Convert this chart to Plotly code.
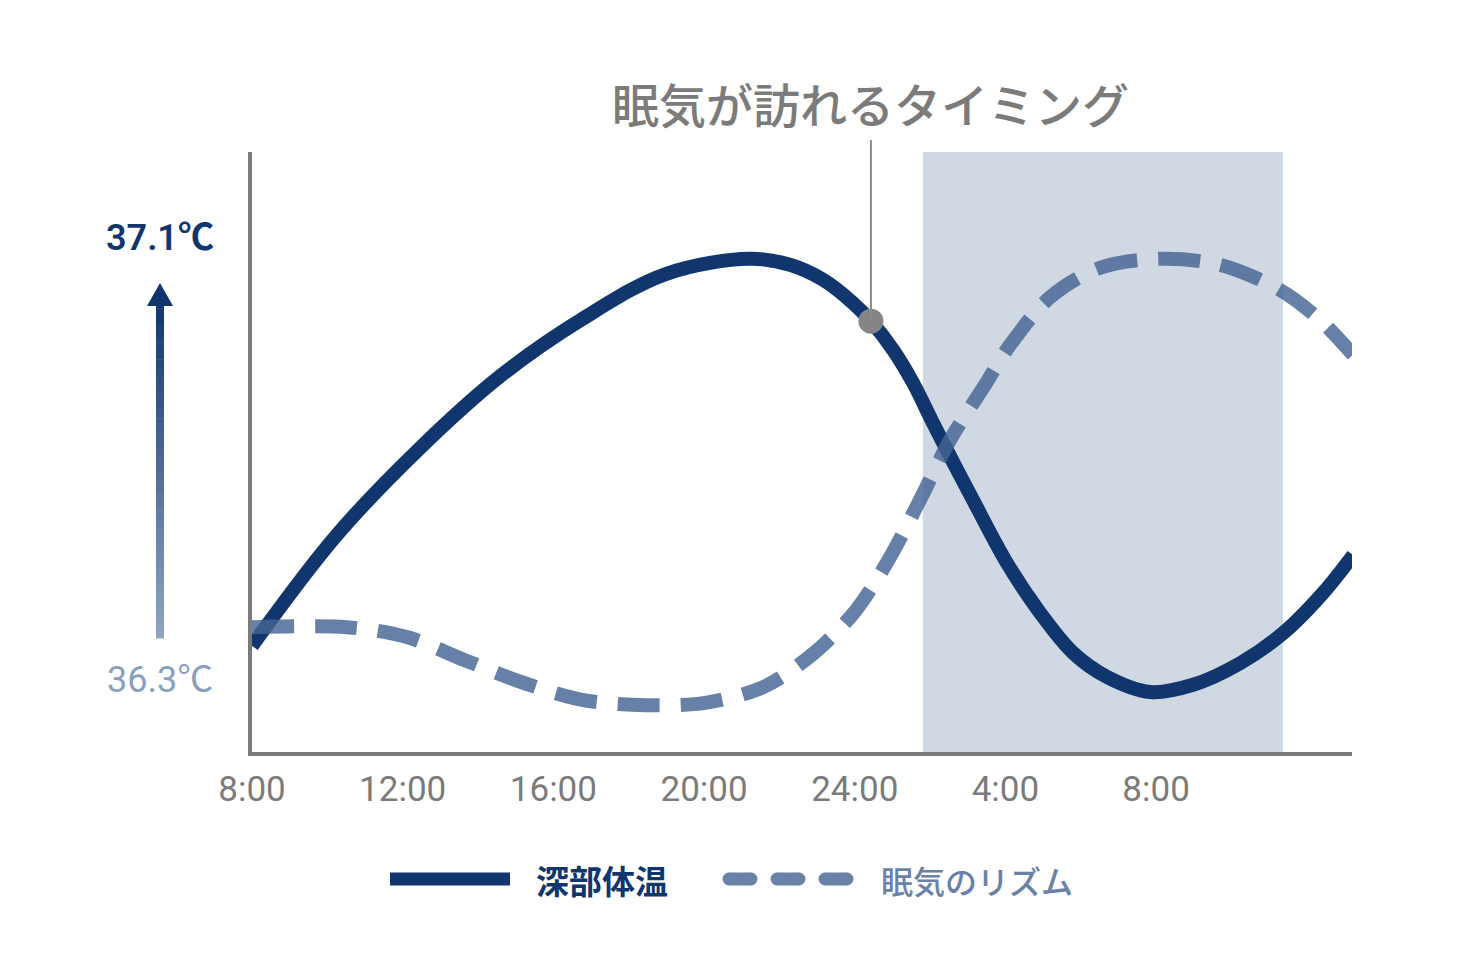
import plotly.graph_objects as go

# hours since 8:00 and relative level (0 = bottom axis, 100 = top of plot)
body_hours = [0, 2.2, 4.4, 6.6, 8.8, 11.0, 13.22, 14.28, 15.16, 15.96, 16.43, 17.02, 17.55,
              18.08, 18.72, 19.14, 20.04, 20.92, 21.80, 22.70, 23.84, 24.98, 26.23, 27.37,
              28.43, 29.23]
body_level = [17.7, 35.8, 50.3, 62.7, 72.3, 79.7, 82.2, 81.2, 78.7, 74.8, 71.8, 67.0, 61.5,
              54.8, 47.0, 42.0, 31.5, 23.2, 16.5, 12.5, 10.0, 11.2, 14.8, 19.8,
              26.5, 32.8]

sleep_hours = [0, 2.52, 4.09, 5.65, 7.22, 8.76, 10.46, 12.03, 13.57, 14.92, 16.04, 16.94,
               17.73, 18.53, 19.46, 20.12, 21.19, 22.51, 24.1, 25.7, 27.29, 28.35, 29.23]
sleep_level = [20.8, 20.8, 19.2, 15.3, 11.5, 8.7, 7.8, 8.2, 10.8, 16.5, 23.7, 32.5,
               42.0, 52.0, 61.2, 67.8, 75.8, 80.7, 82.2, 81.2, 77.0, 72.0, 66.2]

tick_hours = [0, 4, 8, 12, 16, 20, 24]
tick_labels = ["8:00", "12:00", "16:00", "20:00", "24:00", "4:00", "8:00"]

# sleepy timing point and the night band
sleepy_hour = 16.43
sleepy_level = 71.8
night_start, night_end = 17.81, 27.37

x_max = 29.2
y_max = 100

NAVY = "#11366d"
DASH = "rgba(70,100,148,0.82)"
DASH_TXT = "#6a82a8"
GRAY = "#7b7b7b"
SHADE = "#cfd8e3"

FONT = "Roboto, Noto Sans CJK JP, sans-serif"
JP = "Noto Sans CJK JP, sans-serif"

# page puts the figure 8px in from the top-left corner
OFF = 8
W, H = 1460, 973
ML, MR, MT, MB = 252 - OFF, W - 1352 + OFF, 152 - OFF, H - 752 + OFF
PW, PH = W - ML - MR, H - MT - MB


def px(x):
    return (x - OFF - ML) / PW


def py(y):
    return (H - MB - (y - OFF)) / PH


fig = go.Figure()

fig.add_trace(go.Scatter(x=body_hours, y=body_level, mode="lines",
                         line=dict(color=NAVY, width=14, shape="spline", smoothing=1.0),
                         hoverinfo="skip", showlegend=False))
fig.add_trace(go.Scatter(x=sleep_hours, y=sleep_level, mode="lines",
                         line=dict(color=DASH, width=14, shape="spline", smoothing=0.9,
                                   dash="42px,21px"),
                         hoverinfo="skip", showlegend=False))
fig.add_trace(go.Scatter(x=[sleepy_hour], y=[sleepy_level], mode="markers",
                         marker=dict(color="#858585", size=25),
                         hoverinfo="skip", showlegend=False))

shapes = []
# night band
shapes.append(dict(type="rect", xref="x", yref="y", x0=night_start, x1=night_end,
                   y0=0, y1=y_max, fillcolor=SHADE, line=dict(width=0), layer="below"))
# pointer from the title to the curve
shapes.append(dict(type="line", xref="x", yref="paper", x0=sleepy_hour, x1=sleepy_hour,
                   y0=sleepy_level / y_max, y1=py(140), line=dict(color="#8a8a8a", width=2)))

# gradient arrow on the left
top_rgb = (17, 54, 109)
bot_rgb = (142, 163, 193)
steps = 40
y_top, y_bot = 300, 638
for i in range(steps):
    t = i / (steps - 1)
    c = tuple(int(round(a + (b - a) * t)) for a, b in zip(top_rgb, bot_rgb))
    ya = y_top + (y_bot - y_top) * i / steps
    yb = y_top + (y_bot - y_top) * (i + 1) / steps + 0.5
    shapes.append(dict(type="rect", xref="paper", yref="paper",
                       x0=px(156), x1=px(164), y0=py(yb), y1=py(ya),
                       fillcolor="rgb(%d,%d,%d)" % c, line=dict(width=0)))
shapes.append(dict(type="path", xref="paper", yref="paper",
                   path="M %f %f L %f %f L %f %f Z" % (px(147), py(306), px(160), py(283),
                                                       px(173), py(306)),
                   fillcolor=NAVY, line=dict(width=0)))

# legend samples
shapes.append(dict(type="line", xref="paper", yref="paper", x0=px(390), x1=px(510),
                   y0=py(879), y1=py(879), line=dict(color=NAVY, width=13)))
for x0 in (729, 777, 825):
    shapes.append(dict(type="line", xref="paper", yref="paper", x0=px(x0), x1=px(x0 + 22),
                       y0=py(879), y1=py(879), line=dict(color="#6a82a8", width=13)))
    for cx in (x0, x0 + 22):
        shapes.append(dict(type="circle", xref="paper", yref="paper",
                           x0=px(cx - 6.5), x1=px(cx + 6.5), y0=py(885.5), y1=py(872.5),
                           fillcolor="#6a82a8", line=dict(width=0)))

annotations = [
    dict(text="眠気が訪れるタイミング", x=sleepy_hour, xref="x", y=py(103), yref="paper",
         showarrow=False, font=dict(family=JP, size=47, color=GRAY, weight=500),
         xanchor="center", yanchor="middle"),
    dict(text="37.1℃", x=px(160), y=py(238), xref="paper", yref="paper",
         showarrow=False, font=dict(family=FONT, size=36, color=NAVY, weight=600),
         xanchor="center", yanchor="middle"),
    dict(text="36.3℃", x=px(160), y=py(680), xref="paper", yref="paper",
         showarrow=False, font=dict(family=FONT, size=36, color="#8a9fbe"),
         xanchor="center", yanchor="middle"),
    dict(text="深部体温", x=px(534), y=py(880), xref="paper", yref="paper",
         xanchor="left", yanchor="middle", showarrow=False,
         font=dict(family=JP, size=33, color=NAVY, weight=700)),
    dict(text="眠気のリズム", x=px(879), y=py(880), xref="paper", yref="paper",
         xanchor="left", yanchor="middle", showarrow=False,
         font=dict(family=JP, size=32, color=DASH_TXT, weight=500)),
]

fig.update_layout(
    width=W, height=H,
    margin=dict(l=ML, r=MR, t=MT, b=MB),
    paper_bgcolor="white", plot_bgcolor="white",
    shapes=shapes, annotations=annotations,
    xaxis=dict(range=[0, x_max], tickvals=tick_hours, ticktext=tick_labels,
               showgrid=False, zeroline=False, showline=True, linecolor=GRAY, linewidth=4,
               ticks="", tickfont=dict(family=FONT, size=35, color=GRAY),
               ticklabelstandoff=3, fixedrange=True),
    yaxis=dict(range=[0, y_max], showgrid=False, zeroline=False, showline=True,
               linecolor=GRAY, linewidth=4, showticklabels=False, ticks="",
               fixedrange=True),
)

fig.write_html("out.html")
